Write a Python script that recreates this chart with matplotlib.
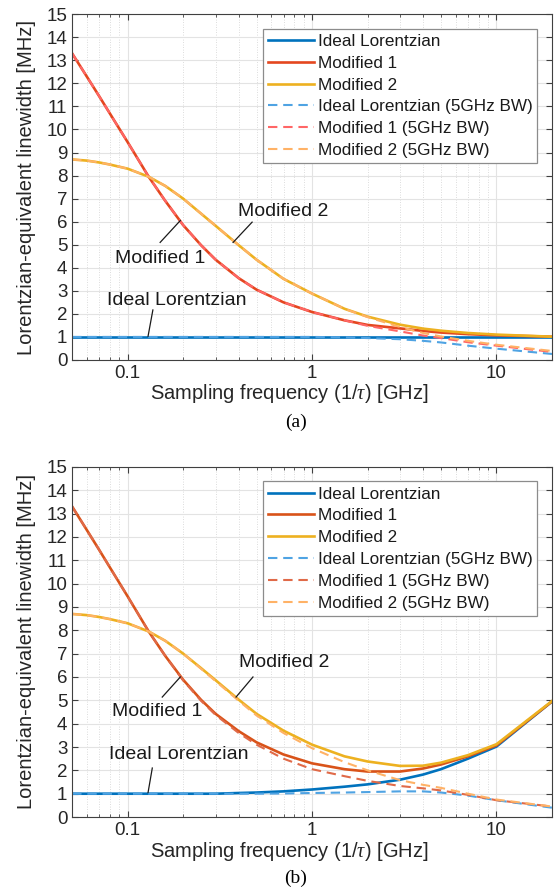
import matplotlib
matplotlib.use('Agg')
import matplotlib.pyplot as plt
from matplotlib.ticker import LogLocator, NullFormatter, FixedLocator

plt.rcParams['font.family'] = ['Liberation Sans', 'DejaVu Sans']
plt.rcParams['mathtext.fontset'] = 'custom'
plt.rcParams['mathtext.it'] = 'Liberation Serif:italic'

# sampling frequency [GHz]
freq = [0.05, 0.06, 0.07, 0.08, 0.1, 0.13, 0.16, 0.2, 0.25, 0.3, 0.4, 0.5,
        0.7, 1, 1.5, 2, 3, 4, 5, 7, 10, 20]

# panel (a)
a_ideal = [1.0] * len(freq)
a_mod1 = [13.3, 12.3, 11.45, 10.7, 9.45, 7.95, 6.9, 5.85, 4.98, 4.35, 3.55, 3.05,
          2.5, 2.08, 1.72, 1.52, 1.37, 1.26, 1.19, 1.12, 1.07, 1.01]
a_mod2 = [8.7, 8.65, 8.57, 8.48, 8.3, 7.95, 7.55, 7.0, 6.35, 5.82, 4.98, 4.35,
          3.52, 2.88, 2.22, 1.88, 1.53, 1.36, 1.27, 1.17, 1.1, 1.01]
a_ideal_bw = [1.0, 1.0, 1.0, 1.0, 1.0, 1.0, 1.0, 1.0, 1.0, 1.0, 1.0, 1.0,
              1.0, 1.0, 0.98, 0.95, 0.9, 0.83, 0.76, 0.62, 0.49, 0.26]
a_mod1_bw = [13.3, 12.3, 11.45, 10.7, 9.45, 7.95, 6.9, 5.85, 4.98, 4.35, 3.55, 3.05,
             2.5, 2.08, 1.72, 1.48, 1.24, 1.06, 0.95, 0.77, 0.62, 0.35]
a_mod2_bw = [8.7, 8.65, 8.57, 8.48, 8.3, 7.95, 7.55, 7.0, 6.35, 5.82, 4.98, 4.35,
             3.52, 2.88, 2.22, 1.86, 1.43, 1.17, 1.02, 0.83, 0.66, 0.39]

# panel (b)
b_ideal = [1.0, 1.0, 1.0, 1.0, 1.0, 1.0, 1.0, 1.0, 1.0, 1.0, 1.03, 1.05,
           1.1, 1.18, 1.3, 1.4, 1.6, 1.82, 2.05, 2.5, 3.02, 4.95]
b_mod1 = [13.3, 12.3, 11.45, 10.7, 9.45, 7.95, 6.9, 5.88, 5.02, 4.42, 3.68, 3.2,
          2.68, 2.3, 2.05, 1.95, 1.95, 2.08, 2.25, 2.6, 3.07, 4.95]
b_mod2 = [8.7, 8.65, 8.57, 8.48, 8.3, 7.95, 7.55, 7.0, 6.38, 5.86, 5.03, 4.42,
          3.7, 3.1, 2.6, 2.38, 2.19, 2.2, 2.33, 2.65, 3.12, 4.97]
b_ideal_bw = [1.0, 1.0, 1.0, 1.0, 1.0, 1.0, 1.0, 1.0, 1.0, 1.0, 1.0, 1.0,
              1.01, 1.03, 1.05, 1.07, 1.1, 1.1, 1.05, 0.92, 0.72, 0.4]
b_mod1_bw = [13.3, 12.3, 11.45, 10.7, 9.45, 7.95, 6.9, 5.85, 4.98, 4.37, 3.6, 3.1,
             2.5, 2.05, 1.75, 1.55, 1.33, 1.23, 1.14, 0.95, 0.72, 0.45]
b_mod2_bw = [8.7, 8.65, 8.57, 8.48, 8.3, 7.95, 7.55, 7.0, 6.35, 5.82, 4.98, 4.35,
             3.6, 2.95, 2.35, 2.0, 1.58, 1.38, 1.25, 1.0, 0.75, 0.45]

labels = ['Ideal Lorentzian', 'Modified 1', 'Modified 2',
          'Ideal Lorentzian (5GHz BW)', 'Modified 1 (5GHz BW)', 'Modified 2 (5GHz BW)']

# annotation: text pos, leader start, leader end (freq, value)
ann_a = [('Modified 2', (0.70, 6.43), (0.473, 5.98), (0.373, 5.1)),
         ('Modified 1', (0.150, 4.42), (0.150, 5.1), (0.193, 6.05)),
         ('Ideal Lorentzian', (0.185, 2.6), (0.137, 2.17), (0.129, 1.03))]
ann_b = [('Modified 2', (0.705, 6.6), (0.478, 6.0), (0.387, 5.14)),
         ('Modified 1', (0.144, 4.5), (0.154, 5.14), (0.193, 6.0)),
         ('Ideal Lorentzian', (0.19, 2.66), (0.136, 2.1), (0.129, 1.05))]

solid_cols_a = ['#0072BD', '#E4471F', '#EDB120']
dash_cols_a = ['#4FA3E3', '#FF6666', '#FFB266']
solid_cols_b = ['#0072BD', '#D95319', '#EDB120']
dash_cols_b = ['#4FA3E3', '#E06A48', '#FFB266']

txt_col = '#262626'


def draw_panel(ax, solids, dashes, scol, dcol, ann):
    for y, c, lab in zip(solids, scol, labels[:3]):
        ax.plot(freq, y, color=c, lw=1.9, label=lab)
    for y, c, lab in zip(dashes, dcol, labels[3:]):
        ax.plot(freq, y, color=c, lw=1.5, ls=(0, (4.5, 2.8)), label=lab)

    ax.set_xscale('log')
    ax.set_xlim(0.05, 20)
    ax.set_ylim(0, 15)
    ax.yaxis.set_major_locator(FixedLocator(range(0, 16)))
    ax.xaxis.set_major_locator(FixedLocator([0.1, 1, 10]))
    ax.set_xticklabels(['0.1', '1', '10'])
    ax.xaxis.set_minor_locator(LogLocator(base=10, subs=range(2, 10)))
    ax.xaxis.set_minor_formatter(NullFormatter())
    ax.grid(True, which='major', color='#E3E3E3', lw=0.8)
    ax.grid(True, which='minor', axis='x', color='#D0D0D0', lw=0.6, ls=(0, (1, 2)))
    ax.set_axisbelow(True)
    ax.tick_params(which='both', direction='in', top=True, right=True,
                   labelsize=13.5, colors='#404040', labelcolor=txt_col)
    ax.tick_params(which='major', length=4, pad=3.5)
    ax.tick_params(which='minor', length=2)
    for s in ax.spines.values():
        s.set_color('#404040')
        s.set_linewidth(0.8)

    ax.set_ylabel('Lorentzian-equivalent linewidth [MHz]', fontsize=14.5,
                  color=txt_col, labelpad=7.5)
    ax.set_xlabel(r'Sampling frequency (1/$\tau$) [GHz]', fontsize=14.5,
                  color=txt_col, labelpad=-1)
    ax.xaxis.set_label_coords(0.452, -0.065)

    for text, tpos, p0, p1 in ann:
        ax.text(tpos[0], tpos[1], text, fontsize=14, color='#1a1a1a',
                ha='center', va='center')
        ax.plot([p0[0], p1[0]], [p0[1], p1[1]], color='#1a1a1a', lw=0.9)

    leg = ax.legend(loc='upper right', fontsize=12.3, handlelength=2.7,
                    handletextpad=0.2, labelspacing=0.4, borderpad=0.3,
                    borderaxespad=0.85, fancybox=False, framealpha=1)
    leg.get_frame().set_edgecolor('#8c8c8c')
    leg.get_frame().set_linewidth(0.9)
    for t in leg.get_texts():
        t.set_color('#1a1a1a')


fig = plt.figure(figsize=(5.55, 8.91), dpi=100)
ax_a = fig.add_axes([0.130, 0.596, 0.8646, 0.388])
ax_b = fig.add_axes([0.130, 0.083, 0.8646, 0.393])

draw_panel(ax_a, [a_ideal, a_mod1, a_mod2], [a_ideal_bw, a_mod1_bw, a_mod2_bw],
           solid_cols_a, dash_cols_a, ann_a)
draw_panel(ax_b, [b_ideal, b_mod1, b_mod2], [b_ideal_bw, b_mod1_bw, b_mod2_bw],
           solid_cols_b, dash_cols_b, ann_b)

fig.text(0.533, 1 - 422 / 891, '(a)', fontsize=14, family='Liberation Serif',
         ha='center', va='center', color='black')
fig.text(0.533, 1 - 878 / 891, '(b)', fontsize=14, family='Liberation Serif',
         ha='center', va='center', color='black')

fig.savefig('out.png', dpi=100)
